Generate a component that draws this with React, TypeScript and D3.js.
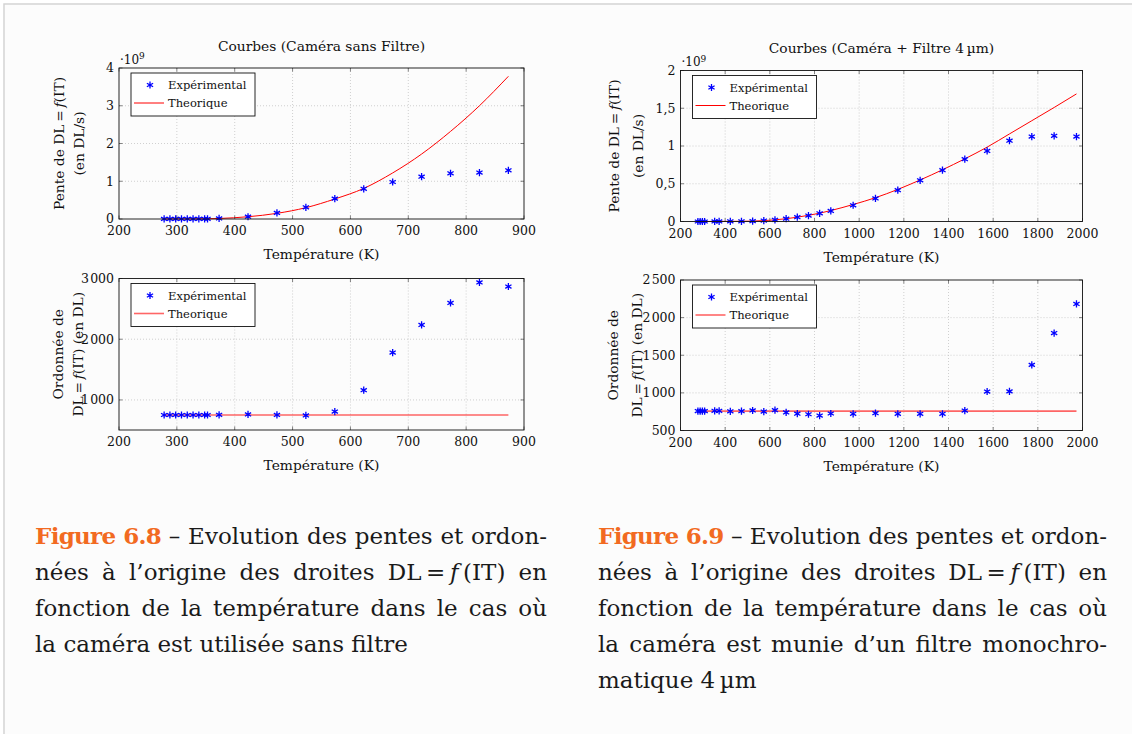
import React, { useLayoutEffect, useRef } from "react";
import * as d3 from "d3";

// ---------------- data ----------------
// Figure 6.8 : caméra sans filtre
const tempsSansFiltre = [278, 288, 298, 308, 318, 328, 338, 348, 353, 373, 423, 473, 523, 573, 623, 673, 723, 773, 823, 873];
const penteExpSansFiltre = [0.001, 0.001, 0.001, 0.002, 0.002, 0.003, 0.004, 0.005, 0.006, 0.015, 0.06, 0.16, 0.31, 0.54, 0.8, 0.98, 1.12, 1.21, 1.23, 1.29]; // ·10^9 DL/s
const tempsTheoSansFiltre = [278, 323, 353, 373, 423, 473, 523, 573, 623, 673, 723, 773, 823, 873];
const penteTheoSansFiltre = [0.001, 0.003, 0.006, 0.014, 0.06, 0.15, 0.3, 0.53, 0.81, 1.22, 1.72, 2.32, 3.0, 3.78];
const ordExpSansFiltre = [752, 752, 752, 752, 752, 752, 752, 752, 752, 755, 762, 753, 745, 808, 1160, 1780, 2235, 2598, 2935, 2868];
const tempsOrdTheoSansFiltre = [278, 873];
const ordTheoSansFiltre = [753, 753];

// Figure 6.9 : caméra + filtre 4 µm
const tempsFiltre = [278, 288, 298, 308, 353, 373, 423, 473, 523, 573, 623, 673, 723, 773, 823, 873, 973, 1073, 1173, 1273, 1373, 1473, 1573, 1673, 1773, 1873, 1973];
const penteExpFiltre = [0, 0, 0, 0, 0.001, 0.001, 0.002, 0.003, 0.005, 0.012, 0.022, 0.037, 0.057, 0.078, 0.108, 0.14, 0.215, 0.305, 0.415, 0.545, 0.68, 0.825, 0.935, 1.07, 1.125, 1.135, 1.125];
const tempsTheoFiltre = [278, 353, 423, 473, 523, 573, 623, 673, 723, 773, 823, 873, 973, 1073, 1173, 1273, 1373, 1473, 1573, 1673, 1773, 1873, 1973];
const penteTheoFiltre = [0, 0.001, 0.002, 0.003, 0.005, 0.012, 0.022, 0.037, 0.057, 0.082, 0.11, 0.145, 0.225, 0.315, 0.425, 0.55, 0.685, 0.83, 0.985, 1.16, 1.335, 1.51, 1.69];
const ordExpFiltre = [758, 758, 758, 758, 762, 762, 755, 757, 766, 752, 770, 740, 723, 716, 698, 726, 722, 730, 722, 722, 722, 765, 1018, 1020, 1372, 1795, 2182];
const tempsOrdTheoFiltre = [278, 1973];
const ordTheoFiltre = [758, 758];

// ticks
const xTicksSansFiltre = [200, 300, 400, 500, 600, 700, 800, 900];
const xTicksFiltre = [200, 400, 600, 800, 1000, 1200, 1400, 1600, 1800, 2000];
const yTicksPenteSansFiltre = [0, 1, 2, 3, 4];
const yTicksOrdSansFiltre = [1000, 2000, 3000];
const yTicksPenteFiltre = [0, 0.5, 1, 1.5, 2];
const yTicksOrdFiltre = [500, 1000, 1500, 2000, 2500];

const legendLabels = ["Expérimental", "Theorique"];
const titles = ["Courbes (Caméra sans Filtre)", "Courbes (Caméra + Filtre 4\u2009µm)"];
const xLabel = "Température (K)";

const captionLeft = [
  "\u2013 Evolution des pentes et ordon-",
  "nées à l’origine des droites DL\u2009=\u2009{f}\u2009(IT) en",
  "fonction de la température dans le cas où",
  "la caméra est utilisée sans filtre",
];
const captionRight = [
  "\u2013 Evolution des pentes et ordon-",
  "nées à l’origine des droites DL\u2009=\u2009{f}\u2009(IT) en",
  "fonction de la température dans le cas où",
  "la caméra est munie d’un filtre monochro-",
  "matique 4\u2009µm",
];
const captionTags = ["Figure 6.8", "Figure 6.9"];

// ---------------- helpers ----------------
const FONT = "'DejaVu Serif', serif";
const fmtFr = (v: number) => String(v).replace(".", ",");
const fmtThousands = (v: number) => {
  const s = String(v);
  return s.length > 3 ? s.slice(0, s.length - 3) + "\u200A" + s.slice(s.length - 3) : s;
};

function renderRich(str: string) {
  const parts = str.split(/(\{[^}]*\})/g).filter((s) => s.length > 0);
  return parts.map((s, i) =>
    s.startsWith("{") ? (
      <tspan key={i} fontStyle="italic">
        {s.slice(1, -1)}
      </tspan>
    ) : (
      <tspan key={i}>{s}</tspan>
    )
  );
}

type PanelProps = {
  left: number;
  right: number;
  top: number;
  bottom: number;
  xDomain: [number, number];
  yDomain: [number, number];
  xTicks: number[];
  yTicks: number[];
  yFmt: (v: number) => string;
  expX: number[];
  expY: number[];
  theoX: number[];
  theoY: number[];
  theoWidth: number;
  theoOpacity: number;
  title?: string;
  exponent?: boolean;
  ylabel: string[];
  ylabelX: number[];
};

function Panel(p: PanelProps) {
  const x = d3.scaleLinear().domain(p.xDomain).range([p.left, p.right]);
  const y = d3.scaleLinear().domain(p.yDomain).range([p.bottom, p.top]);
  const line = d3
    .line<number>()
    .x((_, i) => x(p.theoX[i]))
    .y((d) => y(d))
    .curve(d3.curveMonotoneX);
  const star = d3.symbol().type(d3.symbolAsterisk).size(36)() as string;
  const tickLen = 3.5;
  const cx = (p.left + p.right) / 2;
  const cy = (p.top + p.bottom) / 2;
  const lgX = p.left + 12;
  const lgY = p.top + 5;
  const clipId = `clip-${Math.round(p.left)}-${Math.round(p.top)}`;
  return (
    <g fontFamily={FONT}>
      <defs>
        <clipPath id={clipId}>
          <rect x={p.left} y={p.top - 2} width={p.right - p.left} height={p.bottom - p.top + 4} />
        </clipPath>
      </defs>
      {/* grid */}
      <g stroke="#c4c4c4" strokeWidth={0.8} strokeDasharray="1 2">
        {p.xTicks
          .filter((t) => t > p.xDomain[0] && t < p.xDomain[1])
          .map((t) => (
            <line key={"gx" + t} x1={x(t)} x2={x(t)} y1={p.top} y2={p.bottom} />
          ))}
        {p.yTicks
          .filter((t) => t > p.yDomain[0] && t < p.yDomain[1])
          .map((t) => (
            <line key={"gy" + t} x1={p.left} x2={p.right} y1={y(t)} y2={y(t)} />
          ))}
      </g>
      {/* theory */}
      <path
        d={line(p.theoY) as string}
        fill="none"
        stroke="#ff0000"
        strokeWidth={p.theoWidth}
        strokeOpacity={p.theoOpacity}
        clipPath={`url(#${clipId})`}
      />
      {/* experimental */}
      <g stroke="#0000ff" strokeWidth={1.3} fill="none">
        {p.expX.map((t, i) => (
          <path key={i} d={star} transform={`translate(${x(t)},${y(p.expY[i])})`} />
        ))}
      </g>
      {/* ticks */}
      <g stroke="#333" strokeWidth={0.6}>
        {p.xTicks.map((t) => (
          <g key={"tx" + t}>
            <line x1={x(t)} x2={x(t)} y1={p.bottom} y2={p.bottom - tickLen} />
            <line x1={x(t)} x2={x(t)} y1={p.top} y2={p.top + tickLen} />
          </g>
        ))}
        {p.yTicks.map((t) => (
          <g key={"ty" + t}>
            <line x1={p.left} x2={p.left + tickLen} y1={y(t)} y2={y(t)} />
            <line x1={p.right} x2={p.right - tickLen} y1={y(t)} y2={y(t)} />
          </g>
        ))}
      </g>
      {/* frame */}
      <rect x={p.left} y={p.top} width={p.right - p.left} height={p.bottom - p.top} fill="none" stroke="#111" strokeWidth={0.9} />
      {/* tick labels */}
      <g fontSize={12.5} fill="#111">
        {p.xTicks.map((t) => (
          <text key={"lx" + t} x={x(t)} y={p.bottom + 16} textAnchor="middle">
            {String(t)}
          </text>
        ))}
        {p.yTicks.map((t) => (
          <text key={"ly" + t} x={p.left - 5} y={y(t) + 4.3} textAnchor="end">
            {p.yFmt(t)}
          </text>
        ))}
      </g>
      {p.exponent && (
        <text x={p.left + 1} y={p.top - 4.5} fontSize={12} fill="#111">
          ·10
          <tspan fontSize={9} dy={-4.5}>
            9
          </tspan>
        </text>
      )}
      {p.title && (
        <text x={cx} y={p.top - 17.5} fontSize={13.8} textAnchor="middle" fill="#111">
          {p.title}
        </text>
      )}
      <text x={cx} y={p.bottom + 40} fontSize={13.8} textAnchor="middle" fill="#111">
        {xLabel}
      </text>
      {p.ylabel.map((l, i) => (
        <text
          key={"yl" + i}
          transform={`translate(${p.ylabelX[i]},${cy}) rotate(-90)`}
          fontSize={13.8}
          textAnchor="middle"
          fill="#111"
        >
          {renderRich(l)}
        </text>
      ))}
      {/* legend */}
      <g>
        <rect x={lgX} y={lgY} width={124} height={43} fill="#ffffff" stroke="#111" strokeWidth={0.9} />
        <path d={star} transform={`translate(${lgX + 19},${lgY + 12})`} stroke="#0000ff" strokeWidth={1.3} fill="none" />
        <line
          x1={lgX + 3}
          x2={lgX + 33}
          y1={lgY + 30}
          y2={lgY + 30}
          stroke="#ff0000"
          strokeWidth={p.theoWidth}
          strokeOpacity={p.theoOpacity}
        />
        <text x={lgX + 37} y={lgY + 16} fontSize={11.5} fill="#111">
          {legendLabels[0]}
        </text>
        <text x={lgX + 37} y={lgY + 34} fontSize={11.5} fill="#111">
          {legendLabels[1]}
        </text>
      </g>
    </g>
  );
}

function Caption({ x, width, tag, lines }: { x: number; width: number; tag: string; lines: string[] }) {
  const base = 544;
  const step = 36;
  return (
    <g fontFamily={FONT} fontSize={23} fill="#1a1a1a">
      {lines.map((l, i) => {
        const justify = i < lines.length - 1;
        return (
          <text key={i} x={x} y={base + i * step} data-justify={justify ? width : undefined}>
            {i === 0 && (
              <tspan fontWeight="bold" fill="#f26a21" letterSpacing={-0.7}>
                {tag}
              </tspan>
            )}
            {i === 0 ? " " : null}
            {renderRich(l)}
          </text>
        );
      })}
    </g>
  );
}

export default function App() {
  const svgRef = useRef<SVGSVGElement>(null);

  useLayoutEffect(() => {
    const justify = () => {
      const svg = svgRef.current;
      if (!svg) return;
      svg.querySelectorAll("text[data-justify]").forEach((node) => {
        const el = node as SVGTextElement;
        const target = +(el.getAttribute("data-justify") || 0);
        el.style.wordSpacing = "0px";
        const len = el.getComputedTextLength();
        const n = (el.textContent || "").split(" ").length - 1;
        if (n > 0) el.style.wordSpacing = `${(target - len) / n}px`;
      });
    };
    justify();
    if ((document as any).fonts && (document as any).fonts.ready) {
      (document as any).fonts.ready.then(justify);
    }
  }, []);

  return (
    <div style={{ position: "absolute", left: 0, top: 0, width: 1132, height: 734, background: "#ffffff" }}>
      <svg ref={svgRef} width={1132} height={734} style={{ display: "block" }}>
        <rect x={4} y={4} width={1140} height={740} fill="#fcfcfc" stroke="#d4d4d4" strokeWidth={1.5} />

        <Panel
          left={119}
          right={524}
          top={68}
          bottom={219}
          xDomain={[200, 900]}
          yDomain={[0, 4]}
          xTicks={xTicksSansFiltre}
          yTicks={yTicksPenteSansFiltre}
          yFmt={fmtFr}
          expX={tempsSansFiltre}
          expY={penteExpSansFiltre}
          theoX={tempsTheoSansFiltre}
          theoY={penteTheoSansFiltre}
          theoWidth={1}
          theoOpacity={1}
          title={titles[0]}
          exponent
          ylabel={["Pente de DL\u2009=\u2009{f}(IT)", "(en DL/s)"]}
          ylabelX={[63.5, 84]}
        />
        <Panel
          left={119}
          right={524}
          top={278.5}
          bottom={430}
          xDomain={[200, 900]}
          yDomain={[505, 3000]}
          xTicks={xTicksSansFiltre}
          yTicks={yTicksOrdSansFiltre}
          yFmt={fmtThousands}
          expX={tempsSansFiltre}
          expY={ordExpSansFiltre}
          theoX={tempsOrdTheoSansFiltre}
          theoY={ordTheoSansFiltre}
          theoWidth={1.6}
          theoOpacity={0.6}
          ylabel={["Ordonnée de", "DL\u2009=\u2009{f}(IT) (en DL)"]}
          ylabelX={[62.5, 83]}
        />
        <Panel
          left={680.5}
          right={1082.5}
          top={70.5}
          bottom={221.5}
          xDomain={[200, 2000]}
          yDomain={[0, 2]}
          xTicks={xTicksFiltre}
          yTicks={yTicksPenteFiltre}
          yFmt={fmtFr}
          expX={tempsFiltre}
          expY={penteExpFiltre}
          theoX={tempsTheoFiltre}
          theoY={penteTheoFiltre}
          theoWidth={1}
          theoOpacity={1}
          title={titles[1]}
          exponent
          ylabel={["Pente de DL\u2009=\u2009{f}(IT)", "(en DL/s)"]}
          ylabelX={[618.5, 643]}
        />
        <Panel
          left={680.5}
          right={1082.5}
          top={280}
          bottom={430.5}
          xDomain={[200, 2000]}
          yDomain={[500, 2500]}
          xTicks={xTicksFiltre}
          yTicks={yTicksOrdFiltre}
          yFmt={fmtThousands}
          expX={tempsFiltre}
          expY={ordExpFiltre}
          theoX={tempsOrdTheoFiltre}
          theoY={ordTheoFiltre}
          theoWidth={1.6}
          theoOpacity={0.6}
          ylabel={["Ordonnée de", "DL\u2009=\u2009{f}(IT) (en DL)"]}
          ylabelX={[618, 641.5]}
        />

        <Caption x={35} width={512} tag={captionTags[0]} lines={captionLeft} />
        <Caption x={598} width={509} tag={captionTags[1]} lines={captionRight} />
      </svg>
    </div>
  );
}
